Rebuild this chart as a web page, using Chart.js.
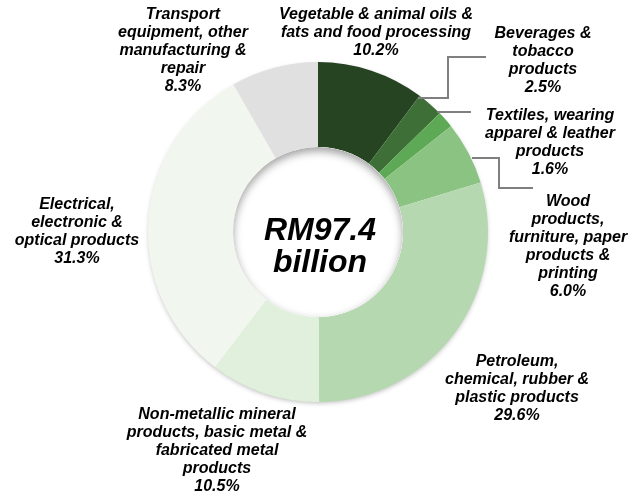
<!DOCTYPE html>
<html>
<head>
<meta charset="utf-8">
<script src="https://cdn.jsdelivr.net/npm/chart.js@4/dist/chart.umd.min.js"></script>
<style>
  html, body { margin: 0; padding: 0; background: #ffffff; }
  #wrap { width: 639px; height: 500px; position: relative; }
</style>
</head>
<body>
<div id="wrap"><canvas id="chart" width="639" height="500"></canvas></div>
<script>
// Manufacturing value added by sub-sector (share of total, %)
const categories = [
  ["Vegetable & animal oils &", "fats and food processing"],
  ["Beverages &", "tobacco", "products"],
  ["Textiles, wearing", "apparel & leather", "products"],
  ["Wood", "products,", "furniture, paper", "products &", "printing"],
  ["Petroleum,", "chemical, rubber &", "plastic products"],
  ["Non-metallic mineral", "products, basic metal &", "fabricated metal", "products"],
  ["Electrical,", "electronic &", "optical products"],
  ["Transport", "equipment, other", "manufacturing &", "repair"]
];
const shares = [10.2, 2.5, 1.6, 6.0, 29.6, 10.5, 31.3, 8.3];
const totalLines = ["RM97.4", "billion"];

const sliceColors = ["#264322", "#3d6f37", "#5ea955", "#8bc383", "#b6d8b0", "#e1efdd", "#f1f7ef", "#e0e0e0"];

// Label block placement: centre x and first-line y
const labelPlacement = [
  { x: 376, y: 15 }, { x: 543, y: 34 }, { x: 550, y: 116 }, { x: 568, y: 202 },
  { x: 517, y: 362 }, { x: 217, y: 415 }, { x: 77, y: 205 }, { x: 183, y: 15 }
];
// Connector polylines for the small slices
const connectors = {
  1: [[418, 98], [448, 98], [448, 57], [486, 57]],
  2: [[437, 112], [471, 112]],
  3: [[472, 158], [499, 158], [499, 188], [533, 188]]
};

const LABEL_FONT = "italic bold 16px 'Liberation Sans', Arial, sans-serif";
const LINE_H = 18;

const decorPlugin = {
  id: 'decor',
  beforeDatasetsDraw(chart) {
    const arc = chart.getDatasetMeta(0).data[0];
    if (!arc) return;
    const { x, y, outerRadius } = arc.getProps(['x', 'y', 'outerRadius'], true);
    const ctx = chart.ctx;
    ctx.save();
    ctx.shadowColor = 'rgba(0,0,0,0.28)';
    ctx.shadowBlur = 5;
    ctx.shadowOffsetY = 2;
    ctx.fillStyle = '#ffffff';
    ctx.beginPath();
    ctx.arc(x, y, outerRadius - 1, 0, Math.PI * 2);
    ctx.fill();
    ctx.restore();
  },
  afterDatasetsDraw(chart) {
    const arc = chart.getDatasetMeta(0).data[0];
    if (!arc) return;
    const { x, y, innerRadius } = arc.getProps(['x', 'y', 'innerRadius'], true);
    const ctx = chart.ctx;
    // white hole with a soft inner shadow falling from the top edge
    ctx.save();
    ctx.beginPath();
    ctx.arc(x, y, innerRadius, 0, Math.PI * 2);
    ctx.fillStyle = '#ffffff';
    ctx.fill();
    ctx.clip();
    ctx.shadowColor = 'rgba(0,0,0,0.38)';
    ctx.shadowBlur = 9;
    ctx.shadowOffsetY = 4;
    ctx.beginPath();
    ctx.arc(x, y, innerRadius + 40, 0, Math.PI * 2);
    ctx.arc(x, y, innerRadius, 0, Math.PI * 2, true);
    ctx.fillStyle = '#ffffff';
    ctx.fill();
    ctx.restore();

    // centre total
    ctx.save();
    ctx.fillStyle = '#000000';
    ctx.font = "italic bold 32px 'Liberation Sans', Arial, sans-serif";
    ctx.textAlign = 'center';
    ctx.textBaseline = 'alphabetic';
    ctx.fillText(totalLines[0], x + 2, y + 8);
    ctx.fillText(totalLines[1], x + 2, y + 40);
    ctx.restore();
  },
  afterDraw(chart) {
    const ctx = chart.ctx;
    ctx.save();
    // connectors
    ctx.strokeStyle = '#7f7f7f';
    ctx.lineWidth = 2;
    Object.keys(connectors).forEach(k => {
      const pts = connectors[k];
      ctx.beginPath();
      ctx.moveTo(pts[0][0], pts[0][1]);
      for (let i = 1; i < pts.length; i++) ctx.lineTo(pts[i][0], pts[i][1]);
      ctx.stroke();
    });
    // category labels with their shares
    ctx.fillStyle = '#000000';
    ctx.font = LABEL_FONT;
    ctx.textAlign = 'center';
    ctx.textBaseline = 'middle';
    categories.forEach((lines, i) => {
      const p = labelPlacement[i];
      const all = lines.concat([shares[i].toFixed(1) + '%']);
      all.forEach((t, j) => ctx.fillText(t, p.x, p.y + j * LINE_H));
    });
    ctx.restore();
  }
};

new Chart(document.getElementById('chart'), {
  type: 'doughnut',
  data: {
    labels: categories.map(l => l.join(' ')),
    datasets: [{
      data: shares,
      backgroundColor: sliceColors,
      borderWidth: 0,
      hoverOffset: 0
    }]
  },
  options: {
    responsive: false,
    animation: false,
    cutout: '50%',
    rotation: 0,
    layout: { padding: { top: 62, bottom: 98, left: 148, right: 151 } },
    plugins: {
      legend: { display: false },
      tooltip: { enabled: false }
    }
  },
  plugins: [decorPlugin]
});
</script>
</body>
</html>
